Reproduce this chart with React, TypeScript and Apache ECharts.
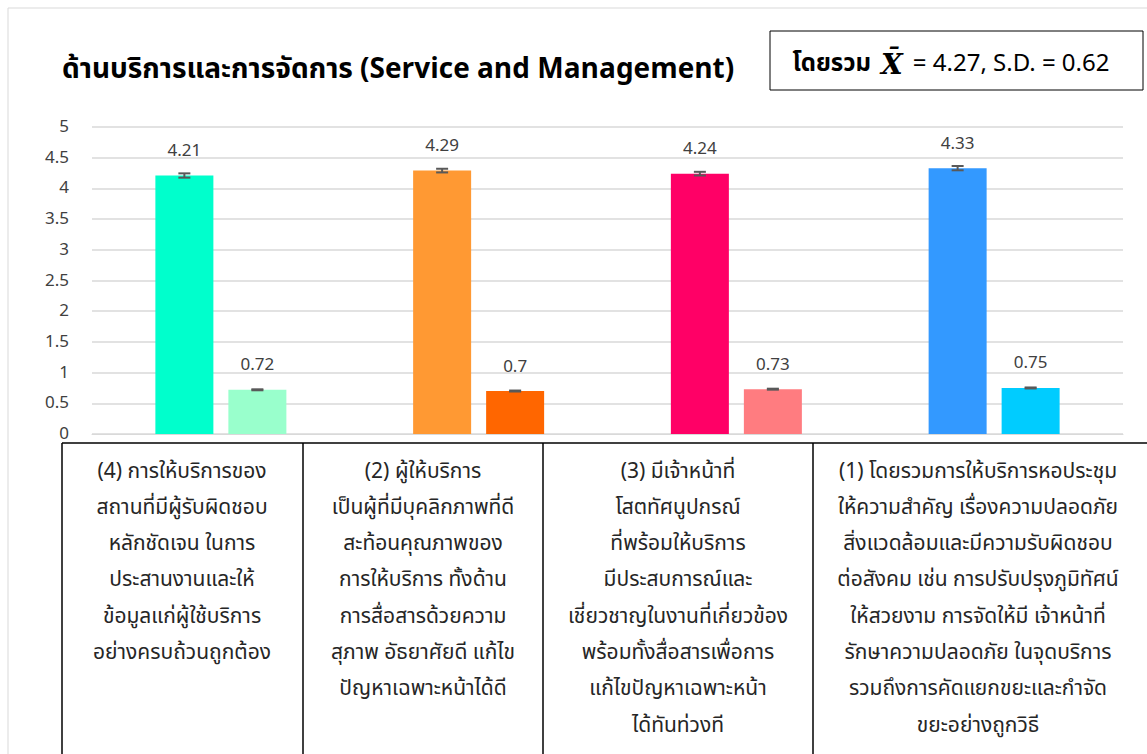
import React, { useEffect, useRef } from "react";
import * as echarts from "echarts";

const categoryIds = ["(4)", "(2)", "(3)", "(1)"];
const categoryLines = [
  ["(4) การให้บริการของ", "สถานที่มีผู้รับผิดชอบ", "หลักชัดเจน ในการ", "ประสานงานและให้", "ข้อมูลแก่ผู้ใช้บริการ", "อย่างครบถ้วนถูกต้อง"],
  ["(2) ผู้ให้บริการ", "เป็นผู้ที่มีบุคลิกภาพที่ดี", "สะท้อนคุณภาพของ", "การให้บริการ ทั้งด้าน", "การสื่อสารด้วยความ", "สุภาพ อัธยาศัยดี แก้ไข", "ปัญหาเฉพาะหน้าได้ดี"],
  ["(3) มีเจ้าหน้าที่", "โสตทัศนูปกรณ์", "ที่พร้อมให้บริการ", "มีประสบการณ์และ", "เชี่ยวชาญในงานที่เกี่ยวข้อง", "พร้อมทั้งสื่อสารเพื่อการ", "แก้ไขปัญหาเฉพาะหน้า", "ได้ทันท่วงที"],
  ["(1) โดยรวมการให้บริการหอประชุม", "ให้ความสำคัญ เรื่องความปลอดภัย", "สิ่งแวดล้อมและมีความรับผิดชอบ", "ต่อสังคม เช่น การปรับปรุงภูมิทัศน์", "ให้สวยงาม การจัดให้มี เจ้าหน้าที่", "รักษาความปลอดภัย ในจุดบริการ", "รวมถึงการคัดแยกขยะและกำจัด", "ขยะอย่างถูกวิธี"],
];
const meanValues = [4.21, 4.29, 4.24, 4.33];
const sdValues = [0.72, 0.7, 0.73, 0.75];
const meanErrors = [0.035, 0.03, 0.03, 0.035];
const sdErrors = [0.008, 0.008, 0.008, 0.008];
const meanColors = ["#00FFCC", "#FF9933", "#FF0066", "#3399FF"];
const sdColors = ["#99FFCC", "#FF6600", "#FF7C80", "#00CCFF"];
const yTicks = { min: 0, max: 5, interval: 0.5 };
const titleText = "ด้านบริการและการจัดการ (Service and Management)";
const summaryLabel = "โดยรวม";
const summaryRest = "= 4.27, S.D. = 0.62";

const FONT = "'Noto Sans Thai', Tahoma, 'Noto Sans', 'DejaVu Sans', sans-serif";
const BAR_W = 58;
const BAR_GAP = 15;
const OFFSET = (BAR_W + BAR_GAP) / 2;

function errRender(offset: number) {
  return (params: any, api: any) => {
    const x = api.value(0);
    const y = api.value(1);
    const e = api.value(2);
    const top = api.coord([x, y + e]);
    const bot = api.coord([x, y - e]);
    const cx = top[0] + offset;
    const style = { stroke: "#595959", lineWidth: 2 };
    return {
      type: "group",
      children: [
        { type: "line", shape: { x1: cx, y1: top[1], x2: cx, y2: bot[1] }, style },
        { type: "line", shape: { x1: cx - 6, y1: top[1], x2: cx + 6, y2: top[1] }, style },
        { type: "line", shape: { x1: cx - 6, y1: bot[1], x2: cx + 6, y2: bot[1] }, style },
      ],
    };
  };
}

export default function App() {
  const ref = useRef<HTMLDivElement>(null);
  useEffect(() => {
    if (!ref.current) return;
    const chart = echarts.init(ref.current, undefined, { renderer: "svg" });
    const colX = [62, 303, 543, 813, 1147];
    const tableTop = 443;
    const graphics: any[] = [
      { type: "rect", shape: { x: 8, y: 8, width: 1160, height: 780 }, style: { fill: "none", stroke: "#d9d9d9", lineWidth: 1 }, z: 0 },
      {
        type: "text",
        x: 62,
        y: 69,
        style: { text: titleText, font: `bold 28px ${FONT}`, fill: "#000", verticalAlign: "middle", align: "left" },
      },
      { type: "rect", shape: { x: 770, y: 31, width: 373, height: 59 }, style: { fill: "#fff", stroke: "#000", lineWidth: 1 } },
      {
        type: "text",
        x: 951,
        y: 64,
        style: {
          text: `{b|${summaryLabel}}{x|X\u0304}{n|${summaryRest}}`,
          align: "center",
          verticalAlign: "middle",
          rich: {
            b: { font: `bold 24px ${FONT}`, fill: "#000", padding: [0, 10, 0, 0] },
            x: { font: `italic bold 28px 'DejaVu Serif', serif`, fill: "#000", padding: [0, 10, 0, 0] },
            n: { font: `24px ${FONT}`, fill: "#000" },
          },
        },
      },
      { type: "line", shape: { x1: colX[0], y1: tableTop, x2: 1147, y2: tableTop }, style: { stroke: "#000", lineWidth: 1.5 } },
    ];
    for (let i = 0; i < 4; i++) {
      graphics.push({ type: "line", shape: { x1: colX[i], y1: tableTop, x2: colX[i], y2: 760 }, style: { stroke: "#000", lineWidth: 1.5 } });
    }
    const centers = [182, 423, 678, 978];
    categoryLines.forEach((lines, i) => {
      lines.forEach((ln, j) => {
        graphics.push({
          type: "text",
          x: centers[i],
          y: 471 + j * 36.3,
          style: { text: ln, font: `21px ${FONT}`, fill: "#262626", align: "center", verticalAlign: "middle" },
        });
      });
    });

    chart.setOption({
      animation: false,
      backgroundColor: "#fff",
      grid: { left: 92, right: 24, top: 127, height: 307 },
      xAxis: {
        type: "category",
        data: categoryIds,
        axisLine: { show: true, lineStyle: { color: "#d9d9d9" } },
        axisTick: { show: false },
        axisLabel: { show: false },
      },
      yAxis: {
        type: "value",
        min: yTicks.min,
        max: yTicks.max,
        interval: yTicks.interval,
        axisLine: { show: false },
        axisTick: { show: false },
        splitLine: { lineStyle: { color: "#d9d9d9", width: 1.5 } },
        axisLabel: { color: "#404040", fontSize: 17, fontFamily: FONT, margin: 23 },
      },
      series: [
        {
          type: "bar",
          name: "Mean",
          barWidth: BAR_W,
          barGap: `${(BAR_GAP / BAR_W) * 100}%`,
          data: meanValues.map((v, i) => ({ value: v, itemStyle: { color: meanColors[i] } })),
          label: { show: true, position: "top", distance: 16, color: "#404040", fontSize: 17, fontFamily: FONT },
        },
        {
          type: "bar",
          name: "S.D.",
          barWidth: BAR_W,
          data: sdValues.map((v, i) => ({ value: v, itemStyle: { color: sdColors[i] } })),
          label: { show: true, position: "top", distance: 16, color: "#404040", fontSize: 17, fontFamily: FONT },
        },
        {
          type: "custom",
          renderItem: errRender(-OFFSET),
          data: meanValues.map((v, i) => [i, v, meanErrors[i]]),
          encode: { x: 0, y: 1 },
          z: 5,
        },
        {
          type: "custom",
          renderItem: errRender(OFFSET),
          data: sdValues.map((v, i) => [i, v, sdErrors[i]]),
          encode: { x: 0, y: 1 },
          z: 5,
        },
      ],
      graphic: graphics,
    });
    return () => chart.dispose();
  }, []);
  return <div ref={ref} style={{ position: "fixed", left: 0, top: 0, width: 1147, height: 754 }} />;
}
